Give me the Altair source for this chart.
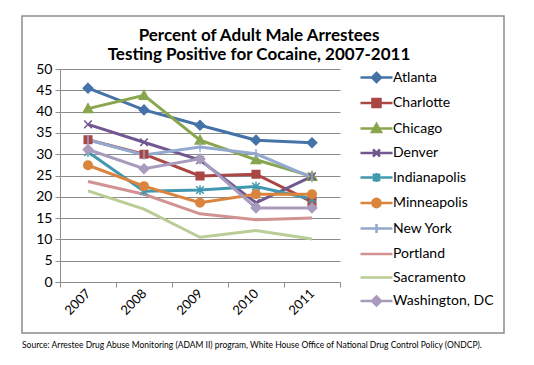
import altair as alt
import pandas as pd

years = ["2007", "2008", "2009", "2010", "2011"]
cities = ["Atlanta", "Charlotte", "Chicago", "Denver", "Indianapolis",
          "Minneapolis", "New York", "Portland", "Sacramento", "Washington, DC"]

atlanta = [45.5, 40.4, 36.8, 33.3, 32.7]
charlotte = [33.4, 30.0, 24.9, 25.3, 18.8]
chicago = [40.7, 43.8, 33.3, 28.7, 24.8]
denver = [37.0, 32.8, 28.6, 18.6, 24.8]
indianapolis = [30.5, 21.3, 21.6, 22.4, 19.5]
minneapolis = [27.4, 22.5, 18.6, 20.6, 20.6]
new_york = [33.4, 29.8, 31.7, 30.1, 24.5]
portland = [23.6, 20.6, 16.0, 14.6, 15.0]
sacramento = [21.4, 17.1, 10.5, 12.1, 10.1]
washington = [31.1, 26.6, 28.9, 17.4, 17.4]

series = [atlanta, charlotte, chicago, denver, indianapolis,
          minneapolis, new_york, portland, sacramento, washington]

colors = ["#4572A7", "#AA4643", "#89A54E", "#71588F", "#4198AF",
          "#DB843D", "#93A9CF", "#D19392", "#B9CD96", "#A99BBD"]

# marker paths for the plot
plot_shapes = [
    "M0,-1L1,0L0,1L-1,0Z",
    "M-0.8,-0.8H0.8V0.8H-0.8Z",
    "M0,-1L1,0.8H-1Z",
    "M-0.8,-0.8L0.8,0.8M-0.8,0.8L0.8,-0.8",
    "M-0.8,-0.8L0.8,0.8M-0.8,0.8L0.8,-0.8M0,-1V1",
    "M0.9,0A0.9,0.9,0,1,1,-0.9,0A0.9,0.9,0,1,1,0.9,0Z",
    "M0,-1V1",
    "M0,0",
    "M0,0",
    "M0,-1L1,0L0,1L-1,0Z",
]
LN = "M-1.6,0H1.6"
legend_shapes = [
    LN + "M0,-0.45L0.45,0L0,0.45L-0.45,0Z",
    LN + "M-0.4,-0.4H0.4V0.4H-0.4Z",
    LN + "M0,-0.45L0.45,0.35H-0.45Z",
    LN + "M-0.35,-0.35L0.35,0.35M-0.35,0.35L0.35,-0.35",
    LN + "M-0.35,-0.35L0.35,0.35M-0.35,0.35L0.35,-0.35M0,-0.45V0.45",
    LN + "M0.42,0A0.42,0.42,0,1,1,-0.42,0A0.42,0.42,0,1,1,0.42,0Z",
    LN + "M0,-0.45V0.45",
    LN,
    LN,
    LN + "M0,-0.45L0.45,0L0,0.45L-0.45,0Z",
]

rows = []
for c, vals in zip(cities, series):
    for y, v in zip(years, vals):
        rows.append({"city": c, "city2": c, "year": y, "value": v})
df = pd.DataFrame(rows)

FONT = "Lato"
GRAY = "#8c8c8c"

x = alt.X("year:N", scale=alt.Scale(type="band", domain=years, paddingInner=0, paddingOuter=0),
          axis=alt.Axis(title=None, labelAngle=315, labelAlign="right", labelBaseline="middle",
                        tickBand="extent", grid=False, domainColor=GRAY, tickColor=GRAY,
                        tickSize=5, labelFont=FONT, labelFontSize=13, labelColor="#000",
                        labelPadding=4))
y = alt.Y("value:Q", scale=alt.Scale(domain=[0, 50], nice=False),
          axis=alt.Axis(title=None, values=list(range(0, 51, 5)), grid=True, gridColor=GRAY,
                        domainColor=GRAY, tickColor=GRAY, tickSize=5, labelFont=FONT,
                        labelFontSize=14, labelColor="#000", labelPadding=3))

cscale = alt.Scale(domain=cities, range=colors)

base = alt.Chart(df)

lines = base.mark_line(strokeWidth=3).encode(
    x=x, y=y,
    color=alt.Color("city:N", scale=cscale, legend=None, sort=cities),
)

points = base.transform_filter(
    "datum.city != 'Portland' && datum.city != 'Sacramento'"
).mark_point(filled=True, size=90, strokeWidth=1.5, opacity=1).encode(
    x=x, y=y,
    fill=alt.Fill("city:N", scale=cscale, legend=None),
    stroke=alt.Stroke("city:N", scale=cscale, legend=None),
    shape=alt.Shape("city2:N", scale=alt.Scale(domain=cities, range=plot_shapes), legend=None),
)

leg = alt.Legend(title=None, orient="none", legendX=305, legendY=-3, symbolSize=400,
                 symbolStrokeWidth=2.5, labelFont=FONT, labelFontSize=14, labelColor="#000",
                 labelOffset=5, rowPadding=4.5, padding=0, symbolOpacity=1)

legend_layer = base.mark_point(filled=True, opacity=0, strokeWidth=2.5).encode(
    x=x, y=y,
    color=alt.Color("city:N", scale=cscale, legend=leg, sort=cities),
    stroke=alt.Stroke("city:N", scale=cscale, legend=leg, sort=cities),
    shape=alt.Shape("city:N", scale=alt.Scale(domain=cities, range=legend_shapes), legend=leg, sort=cities),
)

one = alt.Data(values=[{"a": 1}])
frame = alt.Chart(one).mark_rect(fill="transparent", stroke=GRAY, strokeWidth=1.5).encode(
    x=alt.value(-38), x2=alt.value(444), y=alt.value(-53), y2=alt.value(264)
)
source = alt.Chart(one).mark_text(
    align="left", baseline="middle", font=FONT, fontSize=8.5, color="#000",
    text="Source: Arrestee Drug Abuse Monitoring (ADAM II) program, White House Office of National Drug Control Policy (ONDCP)."
).encode(x=alt.value(-38), y=alt.value(276))

chart = alt.layer(frame, lines, points, legend_layer, source).resolve_scale(
    shape="independent"
).resolve_legend(
    color="independent", stroke="independent", shape="independent", fill="independent"
).properties(
    width=280, height=213,
    title=alt.Title(["Percent of Adult Male Arrestees", "Testing Positive for Cocaine, 2007-2011"],
                    font=FONT, fontSize=17, fontWeight="bold", color="#000", anchor="middle",
                    dx=59, offset=-49, lineHeight=19.5),
    padding={"left": 52, "top": 61, "right": 186, "bottom": 75},
    autosize=alt.AutoSizeParams(type="none"),
).configure_view(stroke=None)

chart.save("out.html", embed_options={"renderer": "svg", "actions": False})
